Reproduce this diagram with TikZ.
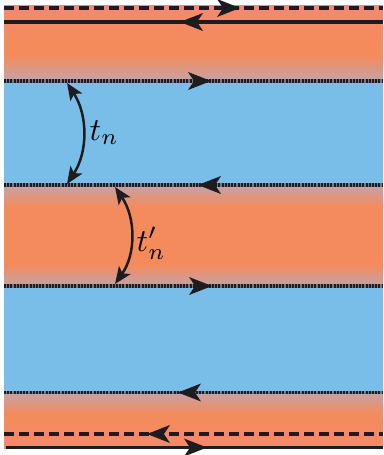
\documentclass[tikz,border=0pt]{standalone}
\usetikzlibrary{arrows.meta}
\definecolor{salmon}{RGB}{246,136,112}
\definecolor{org}{RGB}{244,139,92}
\definecolor{edgec}{RGB}{196,162,168}
\definecolor{sky}{RGB}{120,190,232}
\definecolor{ink}{RGB}{30,28,30}
\definecolor{dotbase}{RGB}{120,120,128}
\tikzset{
  solidline/.style={ink,line width=3.6pt},
  dashline/.style={ink,line width=3.6pt,dash pattern=on 10pt off 5pt},
  dotline/.style={ink,line width=3.2pt,dash pattern=on 2pt off 1.2pt},
  dotbg/.style={dotbase,line width=3.2pt},
  head/.pic={\fill[ink] (0,0) -- (-23,-9) -- (-17,0) -- (-23,9) -- cycle;},
  curvearrow/.style={ink,line width=2.5pt,{Stealth[length=17pt,width=14pt,inset=4pt]}-{Stealth[length=17pt,width=14pt,inset=4pt]}},
  lab/.style={inner sep=0pt,anchor=base west}
}
\begin{document}
\begin{tikzpicture}[x=1pt,y=-1pt]
\useasboundingbox (0,0) rectangle (383,455);
% bands
\fill[org] (4,5) rectangle (383,448);
\fill[sky] (4,81) rectangle (383,185);
\fill[sky] (4,286) rectangle (383,392);
% top band shading
\shade[top color=salmon,bottom color=org] (4,5) rectangle (383,40);
\shade[top color=org,bottom color=edgec] (4,55) rectangle (383,81);
% middle band shading
\shade[top color=edgec,bottom color=org] (4,185) rectangle (383,207);
\shade[top color=org,bottom color=edgec] (4,264) rectangle (383,286);
% bottom band shading
\shade[top color=edgec,bottom color=org] (4,392) rectangle (383,414);
\shade[top color=org,bottom color=salmon] (4,420) rectangle (383,448);
% top edge lines
\draw[dashline] (4,8) -- (383,8);
\draw[solidline] (4,22) -- (383,22);
% dotted interfaces
\foreach \yy in {81,185,286,392.5}{
  \draw[dotbg] (4,\yy) -- (383,\yy);
  \draw[dotline] (4,\yy) -- (383,\yy);
}
% bottom edge lines
\draw[dashline] (4,434) -- (383,434);
\draw[solidline] (6,447.5) -- (383,447.5);
% arrow heads on lines
\pic at (240,8) {head};
\pic[rotate=180] at (180,22) {head};
\pic at (211,81) {head};
\pic[rotate=180] at (198,185) {head};
\pic at (212,286) {head};
\pic[rotate=180] at (178,392.5) {head};
\pic[rotate=180] at (147,434) {head};
\pic at (207,447.5) {head};
% curved arrows
\coordinate (a1) at (67,83);
\coordinate (a2) at (67,184);
\coordinate (b1) at (115,187);
\coordinate (b2) at (115,284);
\draw[curvearrow] (a1) .. controls (88,115) and (88,152) .. (a2);
\draw[curvearrow] (b1) .. controls (136,218) and (136,254) .. (b2);
\node[lab] (tn) at (89.5,140) {\scalebox{3.2}{$t_n$}};
\node[lab] (tpn) at (136.5,251.5) {\scalebox{3.2}{$t'_n$}};
\end{tikzpicture}
\end{document}
